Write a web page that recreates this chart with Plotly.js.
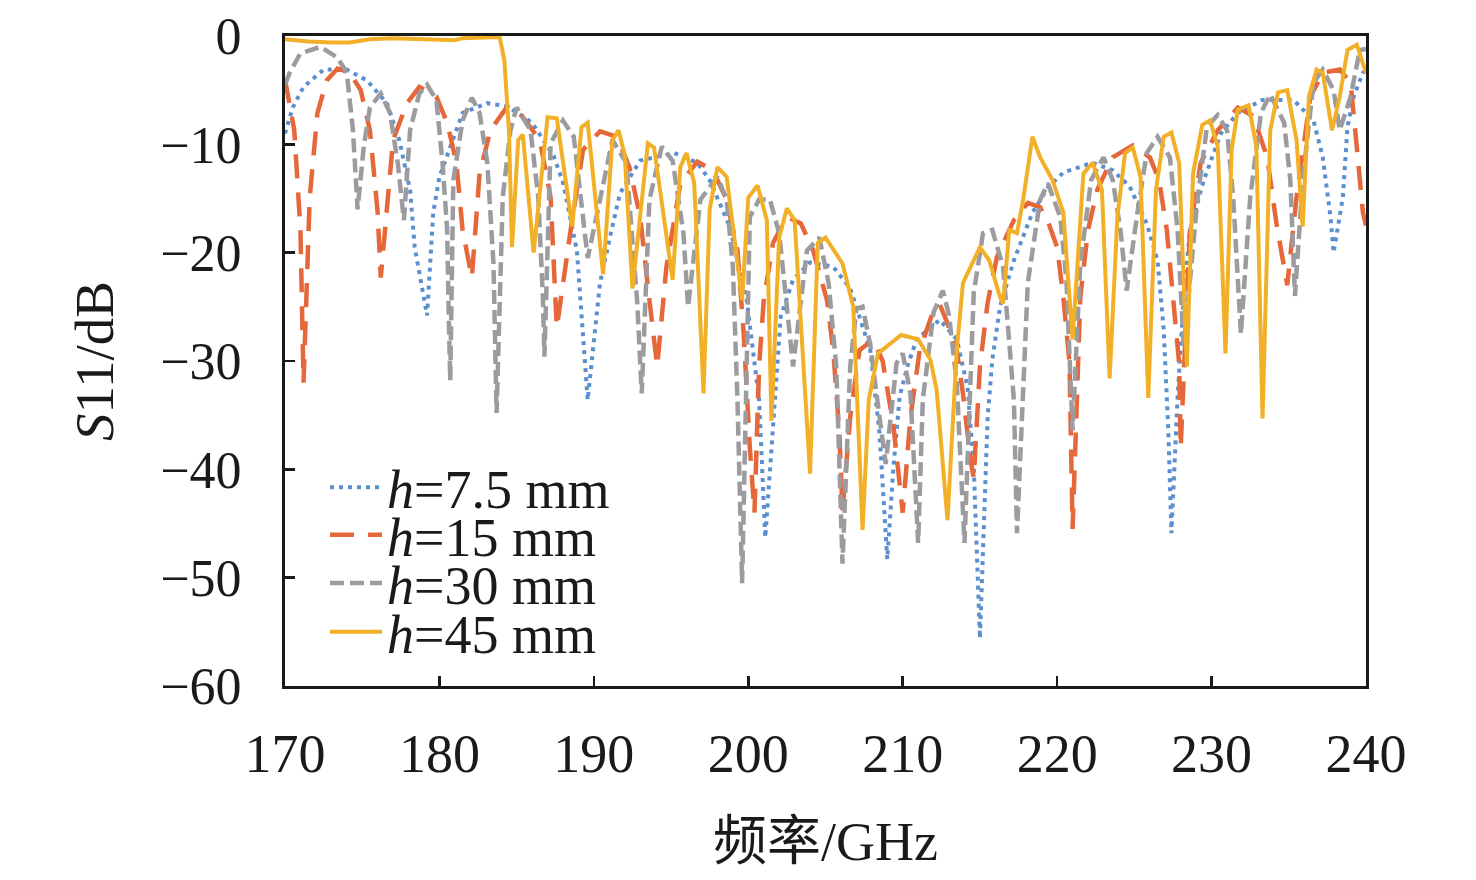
<!DOCTYPE html>
<html>
<head>
<meta charset="utf-8">
<script src="https://cdn.plot.ly/plotly-3.0.1.min.js"></script>
<style>html,body{margin:0;padding:0;background:#fff;}#chart{width:1476px;height:880px;}</style>
</head>
<body>
<div id="chart"></div>
<script>
// h = 7.5 mm
const f75 = [170.0,170.5,171.2,172.5,174.0,175.3,176.6,177.4,178.1,178.4,179.2,179.6,180.0,180.7,181.5,183.1,184.4,186.0,187.4,188.0,188.9,189.6,190.4,191.1,191.7,193.0,195.2,196.7,197.5,198.8,199.9,200.7,201.1,202.1,202.9,204.0,205.5,206.6,207.2,207.9,208.5,209.0,209.4,209.8,210.3,210.9,212.4,213.5,214.2,214.6,215.0,215.5,215.8,216.3,217.2,218.4,219.4,220.4,222.3,223.6,224.7,225.8,226.5,226.9,227.2,227.4,227.8,228.2,228.6,229.5,230.6,231.7,233.3,235.3,236.6,237.2,237.7,237.9,238.5,238.8,239.2,239.8,240.0];
const s75 = [-9.0,-6.6,-4.7,-3.1,-3.1,-4.1,-6.2,-9.6,-14.2,-19.5,-25.8,-16.3,-13.0,-10.2,-7.1,-6.2,-6.5,-8.0,-11.1,-13.5,-19.8,-33.6,-22.8,-18.2,-14.5,-11.5,-10.8,-11.7,-13.3,-17.6,-24.4,-33.6,-46.3,-25.9,-22.5,-20.9,-21.3,-23.3,-25.9,-29.0,-36.7,-48.3,-39.8,-33.3,-30.5,-28.0,-26.2,-28.0,-32.4,-39.8,-55.6,-35.2,-29.9,-25.0,-20.7,-16.3,-14.0,-12.6,-11.7,-12.4,-13.9,-17.3,-20.7,-27.1,-36.4,-45.9,-33.3,-24.1,-17.9,-13.3,-9.0,-7.1,-5.9,-5.9,-7.8,-11.2,-16.7,-20.0,-14.9,-8.4,-5.6,-3.4,-3.2];

// h = 15 mm
const f15 = [170.0,170.6,171.0,171.2,171.6,172.1,172.7,173.4,174.2,174.9,175.5,176.0,176.2,176.6,177.0,177.9,178.7,179.8,180.5,181.1,181.5,182.1,182.6,183.3,184.4,185.2,186.5,187.2,187.6,188.5,189.3,190.4,191.5,192.3,193.0,193.6,194.1,194.7,195.6,196.7,197.7,198.6,199.3,199.7,200.1,200.4,200.7,201.0,201.6,202.5,203.4,204.2,205.1,205.5,205.9,206.1,206.6,207.2,208.1,208.7,209.4,210.0,210.5,211.1,212.0,212.4,212.9,213.5,213.9,214.4,214.6,215.0,215.5,216.1,217.2,218.1,218.9,219.5,220.0,220.4,220.8,221.0,221.5,222.0,222.6,223.6,224.9,226.0,226.6,227.1,227.5,227.9,228.0,228.6,229.3,230.4,231.7,232.7,233.6,234.2,234.9,235.5,236.4,237.2,238.3,239.0,239.4,239.8,240.0];
const s15 = [-4.0,-8.7,-17.9,-32.0,-14.9,-7.1,-4.1,-3.0,-3.4,-5.0,-8.7,-16.3,-22.3,-16.3,-9.6,-6.2,-4.7,-5.6,-8.0,-11.7,-17.9,-22.3,-12.7,-8.7,-6.5,-7.1,-9.6,-14.9,-26.9,-17.9,-10.5,-8.8,-9.3,-12.1,-16.7,-24.4,-30.5,-21.3,-13.6,-11.6,-12.4,-15.1,-19.8,-27.4,-38.0,-44.0,-30.5,-24.4,-19.1,-16.7,-17.3,-19.8,-24.4,-29.0,-36.7,-43.8,-35.2,-29.0,-28.0,-30.0,-36.0,-44.0,-35.2,-29.0,-25.3,-24.8,-26.5,-29.0,-33.0,-39.2,-40.8,-30.5,-24.6,-20.4,-17.0,-15.4,-15.8,-17.5,-19.5,-24.1,-30.2,-45.5,-24.1,-17.9,-14.2,-11.2,-10.1,-11.2,-13.3,-17.9,-24.1,-30.2,-38.0,-17.9,-11.7,-8.7,-6.6,-7.4,-11.2,-17.3,-23.0,-14.9,-5.6,-3.4,-3.1,-4.3,-10.2,-16.3,-17.5];

// h = 30 mm
const f30 = [170.0,170.3,171.0,172.3,173.4,174.0,174.4,174.7,175.1,175.5,176.2,176.8,177.3,177.7,178.1,178.7,179.2,179.8,180.2,180.5,180.6,180.7,180.9,181.5,182.1,182.6,183.1,183.5,183.7,184.1,184.6,185.0,185.9,186.4,186.7,186.8,187.2,188.0,188.7,189.6,190.4,191.2,192.1,192.8,193.1,193.6,194.4,195.1,195.8,196.1,196.9,198.0,198.6,199.0,199.3,199.6,200.1,200.7,201.4,202.0,202.9,203.8,204.6,205.2,205.7,205.9,206.1,206.6,207.0,207.4,207.9,208.5,208.9,209.6,210.0,210.5,211.0,211.3,212.0,212.6,213.0,213.5,214.0,214.6,215.2,215.8,216.5,217.2,217.4,218.1,218.9,219.4,220.2,220.6,220.8,221.0,221.5,222.2,223.0,223.6,224.1,224.5,225.2,225.8,226.5,227.3,227.8,228.2,229.1,229.7,230.4,231.0,231.4,231.9,232.5,233.2,233.8,234.7,235.1,235.4,235.9,236.6,237.2,237.9,238.3,239.0,239.6,240.0];
const s30 = [-4.5,-3.4,-1.6,-1.0,-2.0,-3.4,-8.7,-16.0,-10.2,-6.6,-5.3,-7.1,-11.7,-17.0,-8.7,-5.3,-4.5,-5.9,-11.7,-17.9,-25.6,-31.8,-13.3,-7.8,-5.7,-7.1,-11.7,-21.0,-34.8,-14.9,-8.7,-6.6,-8.7,-14.9,-24.1,-29.6,-9.9,-7.8,-9.3,-20.5,-15.1,-9.6,-11.7,-24.4,-33.0,-15.1,-10.2,-11.5,-18.2,-25.0,-15.1,-13.0,-15.1,-21.3,-33.6,-50.5,-16.7,-15.1,-15.1,-18.2,-30.5,-19.8,-18.6,-22.8,-30.5,-39.8,-48.7,-30.5,-25.2,-25.0,-28.5,-35.2,-39.5,-30.2,-29.3,-33.0,-46.8,-33.6,-25.5,-23.5,-25.8,-32.0,-46.8,-23.7,-18.2,-17.9,-21.3,-33.6,-45.9,-22.8,-15.1,-13.6,-16.7,-22.5,-30.2,-36.4,-21.0,-13.3,-11.2,-13.3,-17.9,-23.5,-16.3,-10.8,-9.3,-11.2,-17.9,-28.7,-14.9,-8.4,-7.3,-8.7,-14.9,-27.5,-14.9,-7.1,-5.4,-8.0,-13.3,-24.0,-13.3,-4.3,-3.1,-5.0,-8.7,-5.6,-1.3,-1.2];

// h = 45 mm
const f45 = [170.0,171.5,173.0,174.2,175.5,177.0,179.0,181.0,181.5,183.5,183.9,184.2,184.5,184.7,185.1,185.4,186.1,187.0,187.6,188.6,189.2,189.6,190.6,191.2,191.6,192.0,192.5,193.5,193.9,195.1,195.6,196.0,196.5,197.1,197.5,198.0,198.6,199.6,200.0,200.6,201.2,201.5,202.0,202.5,203.0,204.0,204.5,205.0,206.1,206.8,207.4,207.8,208.4,209.9,211.0,211.8,212.2,212.9,213.5,213.9,215.0,215.6,216.3,216.5,216.9,217.4,217.8,218.4,218.9,219.7,220.4,221.0,221.7,222.3,222.9,223.4,223.9,224.4,224.9,225.4,225.9,226.4,226.9,227.4,227.9,228.4,228.8,229.4,229.9,230.4,230.9,231.3,231.7,232.4,232.9,233.3,233.8,234.3,234.9,235.5,235.9,236.3,236.8,237.2,237.8,238.3,238.8,239.4,240.0];
const s45 = [-0.3,-0.5,-0.6,-0.6,-0.3,-0.2,-0.3,-0.4,-0.2,-0.1,-0.1,-2.2,-8.7,-19.5,-9.6,-9.1,-20.0,-7.5,-7.6,-17.6,-8.4,-8.0,-22.0,-9.6,-8.7,-11.0,-23.3,-9.9,-10.3,-22.5,-12.1,-10.8,-13.6,-33.0,-16.0,-12.1,-13.0,-24.4,-14.9,-13.8,-17.0,-35.5,-18.6,-15.9,-17.0,-40.4,-19.1,-18.6,-21.0,-25.0,-45.6,-33.6,-29.3,-27.6,-28.0,-29.9,-32.7,-44.7,-29.0,-22.8,-19.5,-20.7,-24.1,-24.7,-17.9,-18.2,-15.1,-9.3,-11.2,-13.3,-16.3,-28.0,-12.7,-11.7,-14.2,-31.6,-16.7,-10.8,-10.3,-13.0,-33.4,-14.2,-9.3,-8.9,-11.7,-30.5,-12.7,-8.2,-7.8,-10.2,-29.3,-10.5,-6.8,-6.4,-10.2,-35.3,-8.7,-5.2,-5.0,-9.6,-17.6,-5.6,-3.1,-3.4,-8.7,-5.6,-1.3,-0.8,-3.4];

const xTicks = [170,180,190,200,210,220,230,240];
const yTicks = [0,-10,-20,-30,-40,-50,-60];
const names = ['<i>h</i>=7.5 mm','<i>h</i>=15 mm','<i>h</i>=30 mm','<i>h</i>=45 mm'];
const legendIds = ['legend','legend2','legend3','legend4'];
const legendY = [0.305, 0.232, 0.158, 0.083];

const serif = '"Liberation Serif", "Times New Roman", serif';
const ink = '#1a1a1a';
const styles = [
  {color:'#5b8fcf', width:4, dash:'4px,5px'},
  {color:'#e5673a', width:4.5, dash:'24px,14px'},
  {color:'#9c9ca0', width:4.5, dash:'14px,6px'},
  {color:'#f1b028', width:4}
];
const xs = [f75, f15, f30, f45];
const ys = [s75, s15, s30, s45];

const traces = xs.map((x, i) => ({
  x: x, y: ys[i], name: names[i], mode: 'lines', line: styles[i], legend: legendIds[i]
}));

const axisCommon = {
  showgrid:false, zeroline:false, showline:true, linecolor:ink, linewidth:3,
  mirror:true, ticks:'inside', ticklen:10, tickwidth:2.5, tickcolor:ink
};

const layout = {
  width:1476, height:880,
  margin:{l:285, r:110, t:36, b:194},
  paper_bgcolor:'#fff', plot_bgcolor:'#fff',
  font:{family:serif, color:ink},
  showlegend:true,
  xaxis: Object.assign({}, axisCommon, {
    range:[170,240], tickvals:xTicks, ticktext:xTicks.map(String),
    tickfont:{family:serif, size:54, color:ink}, ticklabelstandoff:18,
    title:{text:'频率/GHz', font:{family:'"Liberation Serif", "Noto Sans CJK SC", serif', size:54, color:ink}, standoff:40}
  }),
  yaxis: Object.assign({}, axisCommon, {
    range:[-60,0], tickvals:yTicks, ticktext:yTicks.map(v => v === 0 ? '0' : '\u2212' + Math.abs(v)),
    tickfont:{family:serif, size:52, color:ink}, ticklabelstandoff:30,
    title:{text:'<i>S</i>11/dB', font:{family:serif, size:55, color:ink}, standoff:30}
  })
};
legendIds.forEach((id, i) => {
  layout[id] = {x:0.037, y:legendY[i], xanchor:'left', yanchor:'middle', bgcolor:'rgba(0,0,0,0)',
    font:{family:serif, size:54, color:ink}, itemwidth:52, borderwidth:0};
});

Plotly.newPlot('chart', traces, layout, {staticPlot:true, displayModeBar:false});
</script>
</body>
</html>
